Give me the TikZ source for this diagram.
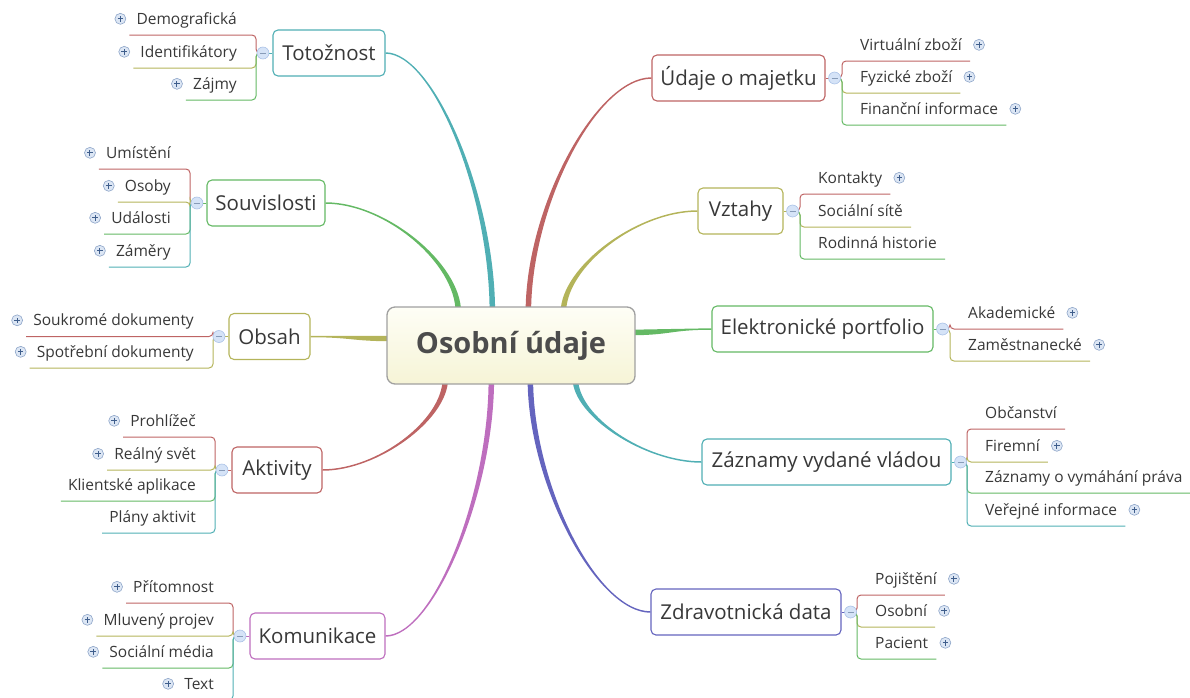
\documentclass[tikz,border=0pt]{standalone}
\usepackage{fontspec}
\setmainfont{Open Sans}
\usetikzlibrary{calc}
\pgfdeclarelayer{bg}
\pgfsetlayers{bg,main}
\definecolor{cR}{HTML}{BE6464}
\definecolor{cO}{HTML}{B4B45A}
\definecolor{cG}{HTML}{64B964}
\definecolor{cT}{HTML}{50AFB4}
\definecolor{cP}{HTML}{BE6EBE}
\definecolor{cB}{HTML}{6464BE}
\definecolor{txt}{HTML}{383838}
\definecolor{togF}{HTML}{D5E3F7}
\definecolor{togD}{HTML}{A9C1E6}
\definecolor{plusF}{HTML}{DCE6F4}
\definecolor{plusD}{HTML}{8FA6C9}
\definecolor{plusM}{HTML}{3F5E8C}
\definecolor{rootT}{HTML}{FEFEF6}
\definecolor{rootB}{HTML}{F6F4D6}
\definecolor{rootD}{HTML}{A0A0A0}
\tikzset{
 root/.style={draw=rootD, line width=1.3pt, rounded corners=8pt, top color=rootT, bottom color=rootB,
   minimum width=248pt, minimum height=77pt, text=txt!90!white, font=\bfseries\fontsize{29}{33}\selectfont},
 topic/.style={draw=#1, rounded corners=5pt, fill=white, line width=1.1pt, minimum height=46pt,
   inner xsep=8pt, text=txt, font=\fontsize{20.5}{24}\selectfont},
 kid/.style={inner xsep=0pt, inner ysep=8.5pt, text height=13pt, text depth=2pt, text=txt,
   font=\fontsize{15.5}{18}\selectfont},
 kidline/.style={line width=1pt, rounded corners=4pt},
 tog/.style={circle, draw=togD, fill=togF, line width=0.6pt, minimum size=12pt, inner sep=0pt,
   path picture={\draw[togD!80!black, line width=0.8pt] ([xshift=-3pt]path picture bounding box.center) -- ([xshift=3pt]path picture bounding box.center);}},
 plusic/.style={circle, draw=plusD, fill=plusF, line width=0.6pt, minimum size=11pt, inner sep=0pt,
   path picture={\draw[plusM, line width=1pt] ([xshift=-2.8pt]path picture bounding box.center) -- ([xshift=2.8pt]path picture bounding box.center) ([yshift=-2.8pt]path picture bounding box.center) -- ([yshift=2.8pt]path picture bounding box.center);}},
}
% tapered branch leaving root vertically, arriving horizontally
\newcommand\vbranch[3]{%
 \fill[#3] let \p1=(#1), \p2=(#2), \n1={ifthenelse(\x2>\x1,1,-1)}, \n2={ifthenelse(\y1>\y2,1,-1)},
   \n3={\y1+0.45*(\y2-\y1)}, \n4={\x2+0.45*(\x1-\x2)} in
   ({\x1+\n1*2.75pt},\y1) .. controls ({\x1+\n1*2.75pt},{\n3*1pt}) and ({\n4*1pt},{\y2+\n2*0.75pt}) .. (\x2,{\y2+\n2*0.75pt})
   -- (\x2,{\y2-\n2*0.75pt}) .. controls ({\n4*1pt},{\y2-\n2*0.75pt}) and ({\x1-\n1*2.75pt},{\n3*1pt}) .. ({\x1-\n1*2.75pt},\y1) -- cycle;}
% tapered branch leaving root horizontally
\newcommand\hbranch[3]{%
 \fill[#3] let \p1=(#1), \p2=(#2), \n3={0.5*(\x1+\x2)} in
   (\x1,{\y1+2.75pt}) .. controls ({\n3*1pt},{\y1+2.75pt}) and ({\n3*1pt},{\y2+0.75pt}) .. (\x2,{\y2+0.75pt})
   -- (\x2,{\y2-0.75pt}) .. controls ({\n3*1pt},{\y2-0.75pt}) and ({\n3*1pt},{\y1-2.75pt}) .. (\x1,{\y1-2.75pt}) -- cycle;}
\newcommand\lkid[6]{%
 \node[kid, anchor=south east] (#1) at (#3,#4) {\kern7pt#5\kern19pt};
 \draw[kidline, #6] (#2) -| (#1.south east) -- (#1.south west);}
\newcommand\rkid[6]{%
 \node[kid, anchor=south west] (#1) at (#3,#4) {\kern18pt#5\kern8pt};
 \draw[kidline, #6] (#2) -| (#1.south west) -- (#1.south east);}
\newcommand\lplus[1]{\node[plusic] at ($(#1.west)+(-9,0)$) {};}
\newcommand\rplus[1]{\node[plusic] at ($(#1.east)+(9,0)$) {};}

\begin{document}
\begin{tikzpicture}[x=1pt,y=-1pt]
\useasboundingbox (0,0) rectangle (1190,697);
\clip (0,0) rectangle (1190,697);

% central topic
\node[root] (root) at (511,345.5) {Osobní údaje};

% main topics
\node[topic=cT, minimum width=112pt] (T1) at (329,53) {Totožnost};
\node[topic=cG, minimum width=118pt] (T2) at (266,203) {Souvislosti};
\node[topic=cO, minimum width=81pt] (T3) at (269.5,336.5) {Obsah};
\node[topic=cR, minimum width=90pt] (T4) at (277,470) {Aktivity};
\node[topic=cP, minimum width=135pt] (T5) at (317.5,636) {Komunikace};
\node[topic=cR, minimum width=173pt] (R1) at (738.5,78) {Údaje o majetku};
\node[topic=cO, minimum width=85pt] (R2) at (740.5,211) {Vztahy};
\node[topic=cG, minimum width=221pt] (R3) at (822.5,329) {Elektronické portfolio};
\node[topic=cT, minimum width=249pt] (R4) at (826.5,462) {Záznamy vydané vládou};
\node[topic=cB, minimum width=190pt] (R5) at (746,612) {Zdravotnická data};

% branch start points on the central topic
\coordinate (sT1) at ($(root.north west)+(106,6)$);
\coordinate (sT2) at ($(root.north west)+(72,6)$);
\coordinate (sR1) at ($(root.north west)+(142,6)$);
\coordinate (sR2) at ($(root.north west)+(177,6)$);
\coordinate (sT4) at ($(root.south west)+(59,-6)$);
\coordinate (sT5) at ($(root.south west)+(105,-6)$);
\coordinate (sR5) at ($(root.south west)+(144,-6)$);
\coordinate (sR4) at ($(root.south west)+(189,-6)$);
\coordinate (sT3) at ($(root.west)+(6,-7)$);
\coordinate (sR3) at ($(root.east)+(-6,-13)$);

\begin{pgfonlayer}{bg}
\vbranch{sT1}{T1.east}{cT}
\vbranch{sT2}{T2.east}{cG}
\vbranch{sR1}{R1.west}{cR}
\vbranch{sR2}{R2.west}{cO}
\vbranch{sT4}{T4.east}{cR}
\vbranch{sT5}{T5.east}{cP}
\vbranch{sR5}{R5.west}{cB}
\vbranch{sR4}{R4.west}{cT}
\hbranch{sT3}{T3.east}{cO}
\hbranch{sR3}{R3.west}{cG}
\end{pgfonlayer}

% toggle positions
\coordinate (c1) at ($(T1.west)+(-9.5,0)$);
\coordinate (c2) at ($(T2.west)+(-9.5,0)$);
\coordinate (c3) at ($(T3.west)+(-9.5,0)$);
\coordinate (c4) at ($(T4.west)+(-9.5,0)$);
\coordinate (c5) at ($(T5.west)+(-9.5,0)$);
\coordinate (d1) at ($(R1.east)+(9,0)$);
\coordinate (d2) at ($(R2.east)+(9,0)$);
\coordinate (d3) at ($(R3.east)+(9,0)$);
\coordinate (d4) at ($(R4.east)+(9,0)$);
\coordinate (d5) at ($(R5.east)+(9,0)$);
\draw[cT, line width=1pt] (T1.west) -- (c1);
\draw[cG, line width=1pt] (T2.west) -- (c2);
\draw[cO, line width=1pt] (T3.west) -- (c3);
\draw[cR, line width=1pt] (T4.west) -- (c4);
\draw[cP, line width=1pt] (T5.west) -- (c5);
\draw[cR, line width=1pt] (R1.east) -- (d1);
\draw[cO, line width=1pt] (R2.east) -- (d2);
\draw[cG, line width=1pt] (R3.east) -- (d3);
\draw[cT, line width=1pt] (R4.east) -- (d4);
\draw[cB, line width=1pt] (R5.east) -- (d5);

% Totožnost
\lkid{k11}{c1}{256}{35}{Demografická}{cR}
\lkid{k12}{c1}{256}{68}{Identifikátory}{cO}
\lkid{k13}{c1}{256}{100}{Zájmy}{cG}
\lplus{k11}\lplus{k12}\lplus{k13}
% Souvislosti
\lkid{k21}{c2}{190}{169}{Umístění}{cR}
\lkid{k22}{c2}{190}{202}{Osoby}{cO}
\lkid{k23}{c2}{190}{234}{Události}{cG}
\lkid{k24}{c2}{190}{267}{Záměry}{cT}
\lplus{k21}\lplus{k22}\lplus{k23}\lplus{k24}
% Obsah
\lkid{k31}{c3}{213}{336.5}{Soukromé dokumenty}{cR}
\lkid{k32}{c3}{213}{368}{Spotřební dokumenty}{cO}
\lplus{k31}\lplus{k32}
% Aktivity
\lkid{k41}{c4}{215}{437}{Prohlížeč}{cR}
\lkid{k42}{c4}{215}{470}{Reálný svět}{cO}
\lkid{k43}{c4}{215}{501}{Klientské aplikace}{cG}
\lkid{k44}{c4}{215}{533}{Plány aktivit}{cT}
\lplus{k41}\lplus{k42}
% Komunikace
\lkid{k51}{c5}{233}{603}{Přítomnost}{cR}
\lkid{k52}{c5}{233}{636}{Mluvený projev}{cO}
\lkid{k53}{c5}{233}{668}{Sociální média}{cG}
\lkid{k54}{c5}{233}{700}{Text}{cT}
\lplus{k51}\lplus{k52}\lplus{k53}\lplus{k54}
% Údaje o majetku
\rkid{m11}{d1}{842}{61}{Virtuální zboží}{cR}
\rkid{m12}{d1}{842}{93}{Fyzické zboží}{cO}
\rkid{m13}{d1}{842}{125}{Finanční informace}{cG}
\rplus{m11}\rplus{m12}\rplus{m13}
% Vztahy
\rkid{m21}{d2}{800}{194}{Kontakty}{cR}
\rkid{m22}{d2}{800}{227}{Sociální sítě}{cO}
\rkid{m23}{d2}{800}{259}{Rodinná historie}{cG}
\rplus{m21}
% Elektronické portfolio
\rkid{m31}{d3}{950}{329}{Akademické}{cR}
\rkid{m32}{d3}{950}{361}{Zaměstnanecké}{cO}
\rplus{m31}\rplus{m32}
% Záznamy vydané vládou
\rkid{m41}{d4}{967}{429}{Občanství}{cR}
\rkid{m42}{d4}{967}{462}{Firemní}{cO}
\rkid{m43}{d4}{967}{493}{Záznamy o vymáhání práva}{cG}
\rkid{m44}{d4}{967}{526}{Veřejné informace}{cT}
\rplus{m42}\rplus{m44}
% Zdravotnická data
\rkid{m51}{d5}{857}{595}{Pojištění}{cR}
\rkid{m52}{d5}{857}{627}{Osobní}{cO}
\rkid{m53}{d5}{857}{659}{Pacient}{cG}
\rplus{m51}\rplus{m52}\rplus{m53}

% toggles
\foreach \c in {c1,c2,c3,c4,c5,d1,d2,d3,d4,d5} \node[tog] at (\c) {};
\end{tikzpicture}
\end{document}
